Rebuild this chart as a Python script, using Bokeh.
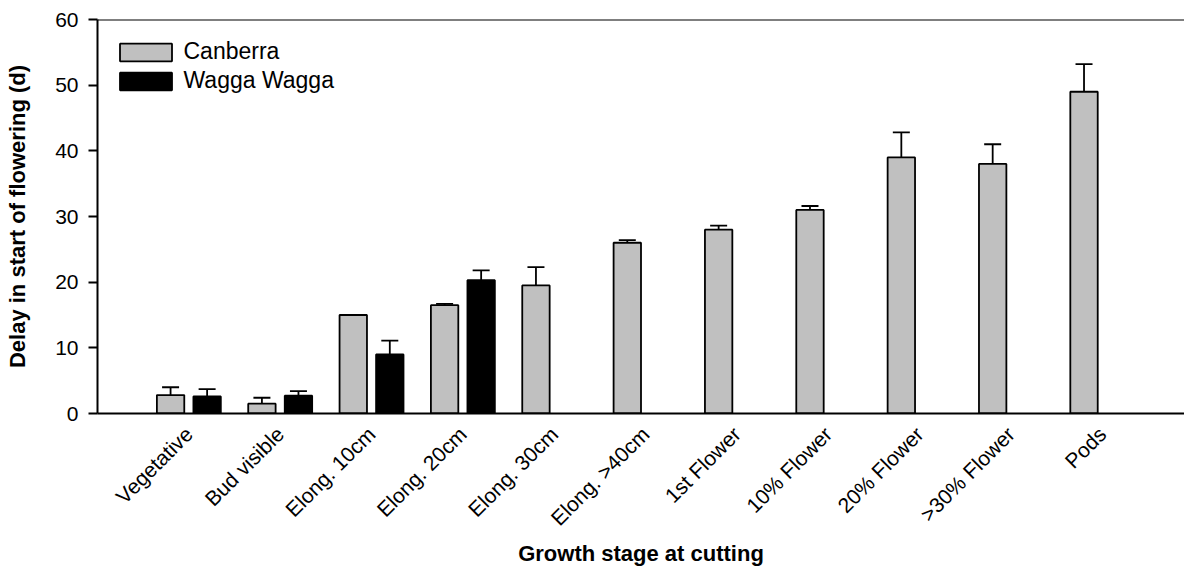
import math

from bokeh.embed import file_html
from bokeh.models import (ColumnDataSource, FixedTicker, Legend, LegendItem,
                          Range1d, Span, TeeHead, Whisker)
from bokeh.plotting import figure
from bokeh.resources import INLINE

# Growth stage at which the crop was cut
stages = ["Vegetative", "Bud visible", "Elong. 10cm", "Elong. 20cm", "Elong. 30cm",
          "Elong. >40cm", "1st Flower", "10% Flower", "20% Flower", ">30% Flower", "Pods"]

# Delay in start of flowering (days) and standard errors
canberra = [2.8, 1.5, 15.0, 16.5, 19.5, 26.0, 28.0, 31.0, 39.0, 38.0, 49.0]
canberra_se = [1.2, 0.9, 0.0, 0.2, 2.8, 0.4, 0.6, 0.6, 3.8, 3.0, 4.2]
wagga = [2.6, 2.7, 9.0, 20.3]
wagga_se = [1.1, 0.7, 2.1, 1.5]

y_ticks = [0, 10, 20, 30, 40, 50, 60]

FONT = "Liberation Sans"
OFFSET = 0.2
BAR_W = 0.3

can_src = ColumnDataSource(dict(
    x=[i + 1 - OFFSET for i in range(len(canberra))],
    top=canberra,
    upper=[v + e for v, e in zip(canberra, canberra_se)],
))
wag_src = ColumnDataSource(dict(
    x=[i + 1 + OFFSET for i in range(len(wagga))],
    top=wagga,
    upper=[v + e for v, e in zip(wagga, wagga_se)],
))

p = figure(width=1184, height=568, x_range=Range1d(0, 11.9), y_range=Range1d(0, 60),
           output_backend="svg", toolbar_location=None,
           min_border_left=97, min_border_right=0, min_border_top=19, min_border_bottom=155)
p.outline_line_color = None
p.grid.visible = False
p.background_fill_color = "white"
p.border_fill_color = "white"

r_can = p.vbar(x="x", top="top", bottom=0, width=BAR_W, source=can_src,
               fill_color="#c0c0c0", line_color="black", line_width=1.8)
r_wag = p.vbar(x="x", top="top", bottom=0, width=BAR_W, source=wag_src,
               fill_color="black", line_color="black", line_width=1.8)

for src in (can_src, wag_src):
    p.add_layout(Whisker(base="x", lower="top", upper="upper", source=src,
                         dimension="height", line_color="black", line_width=1.8,
                         upper_head=TeeHead(size=17, line_color="black", line_width=1.8),
                         lower_head=None))

# top frame line
p.add_layout(Span(location=60, dimension="width", line_color="black", line_width=2))

legend = Legend(items=[LegendItem(label="Canberra", renderers=[r_can]),
                       LegendItem(label="Wagga Wagga", renderers=[r_wag])],
                location=(15.5, 319), border_line_color=None, background_fill_alpha=0,
                label_text_font=FONT, label_text_font_size="23px", label_text_color="black",
                glyph_width=65, glyph_height=22, label_height=22, spacing=2,
                label_standoff=6, margin=0, padding=0)
p.add_layout(legend)

# y axis
ya = p.yaxis[0]
ya.ticker = FixedTicker(ticks=y_ticks)
ya.minor_tick_line_color = None
ya.major_tick_out = 9
ya.major_tick_in = 0
ya.major_tick_line_width = 2
ya.axis_line_width = 2
ya.major_label_standoff = 10
ya.major_label_text_font = FONT
ya.major_label_text_font_size = "21px"
ya.major_label_text_color = "black"
ya.axis_label = "Delay in start of flowering (d)"
ya.axis_label_text_font = FONT
ya.axis_label_text_font_size = "22px"
ya.axis_label_text_font_style = "bold"
ya.axis_label_text_color = "black"
ya.axis_label_standoff = 22

# x axis
xa = p.xaxis[0]
xa.ticker = FixedTicker(ticks=list(range(1, len(stages) + 1)))
xa.major_label_overrides = {i + 1: s for i, s in enumerate(stages)}
xa.major_label_orientation = math.pi / 4
xa.minor_tick_line_color = None
xa.major_tick_line_color = None
xa.major_tick_out = 0
xa.major_tick_in = 0
xa.axis_line_width = 2
xa.major_label_standoff = 17
xa.major_label_text_font = FONT
xa.major_label_text_font_size = "21px"
xa.major_label_text_color = "black"
xa.axis_label = "Growth stage at cutting"
xa.axis_label_text_font = FONT
xa.axis_label_text_font_size = "22px"
xa.axis_label_text_font_style = "bold"
xa.axis_label_text_color = "black"
xa.axis_label_standoff = 0

open("out.html", "w").write(file_html(p, INLINE))
